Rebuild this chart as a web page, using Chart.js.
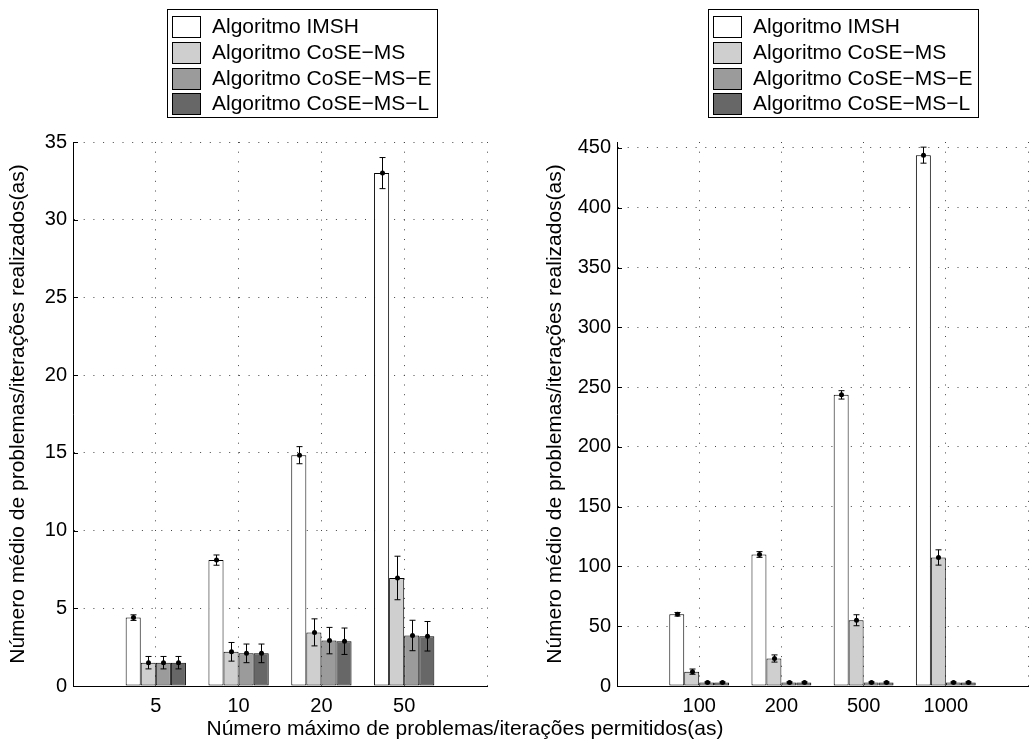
<!DOCTYPE html>
<html>
<head>
<meta charset="utf-8">
<script src="https://cdn.jsdelivr.net/npm/chart.js@4.4.0/dist/chart.umd.min.js"></script>
<style>
html,body{margin:0;padding:0;background:#fff;}
body{width:1036px;height:747px;position:relative;overflow:hidden;font-family:"Liberation Sans",Arial,sans-serif;}
.wrap{position:absolute;top:0;width:518px;height:747px;}
#w1{left:0;}
#w2{left:518px;}
#xt{position:absolute;left:0;width:930px;top:716px;line-height:24px;text-align:center;font-size:21px;color:#000;white-space:nowrap;}
</style>
</head>
<body>
<div class="wrap" id="w1"><canvas id="c1" width="518" height="747"></canvas></div>
<div class="wrap" id="w2"><canvas id="c2" width="518" height="747"></canvas></div>
<div id="xt">Número máximo de problemas/iterações permitidos(as)</div>
<script>
// ---------- data ----------
const seriesNames = ['Algoritmo IMSH', 'Algoritmo CoSE\u2212MS', 'Algoritmo CoSE\u2212MS\u2212E', 'Algoritmo CoSE\u2212MS\u2212L'];
const seriesColors = ['#ffffff', '#cfcfcf', '#9b9b9b', '#676767'];
const yTitle = 'Número médio de problemas/iterações realizados(as)';

// left panel
const categoriesLeft = ['5', '10', '20', '50'];
const imshLeft      = [4.4, 8.1, 14.85, 33.0];
const imshLeftErr   = [0.18, 0.33, 0.55, 1.0];
const coseLeft      = [1.5, 2.2, 3.45, 6.95];
const coseLeftErr   = [0.4, 0.6, 0.87, 1.4];
const coseELeft     = [1.5, 2.1, 2.92, 3.25];
const coseELeftErr  = [0.4, 0.6, 0.85, 0.98];
const coseLLeft     = [1.5, 2.1, 2.88, 3.2];
const coseLLeftErr  = [0.4, 0.6, 0.85, 0.95];
const yTicksLeft    = [0, 5, 10, 15, 20, 25, 30, 35];

// right panel
const categoriesRight = ['100', '200', '500', '1000'];
const imshRight      = [60, 110, 243.5, 444];
const imshRightErr   = [1.5, 2.4, 3.5, 6.7];
const coseRight      = [12, 23, 55, 107.5];
const coseRightErr   = [2.2, 3, 4.6, 6.4];
const coseERight     = [3, 3, 3, 3];
const coseERightErr  = [0.5, 0.5, 0.5, 0.5];
const coseLRight     = [3, 3, 3, 3];
const coseLRightErr  = [0.5, 0.5, 0.5, 0.5];
const yTicksRight    = [0, 50, 100, 150, 200, 250, 300, 350, 400, 450];

// ---------- plugins ----------
const errorBarPlugin = {
  id: 'errbars',
  afterDatasetsDraw(chart) {
    const ctx = chart.ctx, ys = chart.scales.y;
    chart.data.datasets.forEach((ds, i) => {
      const meta = chart.getDatasetMeta(i);
      meta.data.forEach((bar, j) => {
        const v = ds.data[j].y, e = ds.errors[j];
        const x = Math.round(bar.x) + 0.5;
        const yt = ys.getPixelForValue(v + e), yb = ys.getPixelForValue(v - e), yc = ys.getPixelForValue(v);
        ctx.save();
        ctx.strokeStyle = '#000';
        ctx.lineWidth = 1;
        ctx.beginPath();
        ctx.moveTo(x, yt); ctx.lineTo(x, yb);
        ctx.moveTo(x - 3, yt); ctx.lineTo(x + 3, yt);
        ctx.moveTo(x - 3, yb); ctx.lineTo(x + 3, yb);
        ctx.stroke();
        ctx.beginPath();
        ctx.arc(x, yc, 2.5, 0, Math.PI * 2);
        ctx.fillStyle = '#000';
        ctx.fill();
        ctx.restore();
      });
    });
  }
};

// inward major tick marks on the y axis (MATLAB style)
const inwardTickPlugin = {
  id: 'inwardTicks',
  afterDatasetsDraw(chart) {
    const ctx = chart.ctx, ys = chart.scales.y, a = chart.chartArea;
    ctx.save();
    ctx.strokeStyle = '#000';
    ctx.lineWidth = 1;
    ctx.beginPath();
    ys.ticks.forEach(t => {
      const y = Math.round(ys.getPixelForValue(t.value)) + 0.5;
      ctx.moveTo(a.left, y); ctx.lineTo(a.left + 5, y);
    });
    ctx.stroke();
    ctx.restore();
  }
};

const boxLegendPlugin = {
  id: 'boxLegend',
  afterDraw(chart) {
    const ctx = chart.ctx;
    const R = Math.round(chart.chartArea.right - 50);
    const top = 9, rowH = 25.8, boxW = 270, boxH = 108;
    const L = R - boxW;
    ctx.save();
    ctx.fillStyle = '#fff';
    ctx.fillRect(L, top, boxW, boxH);
    ctx.strokeStyle = '#000';
    ctx.lineWidth = 1;
    ctx.strokeRect(L + 0.5, top + 0.5, boxW, boxH);
    chart.data.datasets.forEach((ds, i) => {
      const cy = Math.round(top + 17 + i * rowH);
      ctx.fillStyle = ds.backgroundColor;
      ctx.fillRect(L + 5, cy - 10, 28, 21);
      ctx.strokeStyle = '#000';
      ctx.strokeRect(L + 5.5, cy - 10 + 0.5, 28, 21);
      ctx.fillStyle = '#000';
      ctx.font = '21px "Liberation Sans", Arial, sans-serif';
      ctx.textBaseline = 'middle';
      ctx.textAlign = 'left';
      ctx.fillText(ds.label, L + 45, cy + 1);
    });
    ctx.restore();
  }
};

function makeChart(id, categories, values, errors, yMax, yTicks, yWidth, titlePad, padRight) {
  const datasets = values.map((vals, k) => ({
    label: seriesNames[k],
    data: vals.map((v, i) => ({ x: i + 1, y: v })),
    errors: errors[k],
    backgroundColor: seriesColors[k],
    borderColor: '#000',
    borderWidth: 1,
    borderSkipped: false,
    categoryPercentage: 0.728,
    barPercentage: 1.0
  }));
  return new Chart(document.getElementById(id), {
    type: 'bar',
    data: { datasets },
    options: {
      responsive: false,
      animation: false,
      devicePixelRatio: 1,
      layout: { padding: { top: 142, left: 0, right: padRight, bottom: 0 } },
      plugins: { legend: { display: false }, tooltip: { enabled: false } },
      scales: {
        x: {
          type: 'linear',
          min: 0, max: 5,
          offset: false,
          grid: { offset: false, color: '#444', lineWidth: 1, drawTicks: false },
          border: { display: true, color: '#000', width: 1, dash: [1, 8.7] },
          ticks: {
            stepSize: 1,
            padding: 8,
            color: '#000',
            font: { size: 20 },
            maxRotation: 0,
            autoSkip: false,
            callback: (v) => (v >= 1 && v <= 4) ? categories[v - 1] : ''
          },
          afterBuildTicks: (s) => { s.ticks = [0, 1, 2, 3, 4, 5].map(v => ({ value: v })); },
          afterFit: (s) => { s.height = 61; }
        },
        y: {
          type: 'linear',
          min: 0, max: yMax,
          grid: { color: '#444', lineWidth: 1, drawTicks: false },
          border: { display: true, color: '#000', width: 1, dash: [1, 8.7] },
          ticks: { padding: 6, color: '#000', font: { size: 20 } },
          afterBuildTicks: (s) => { s.ticks = yTicks.map(v => ({ value: v })); },
          afterFit: (s) => { s.width = yWidth; },
          title: {
            display: true,
            text: yTitle,
            color: '#000',
            font: { size: 21 },
            padding: { top: titlePad, bottom: 0 }
          }
        }
      }
    },
    plugins: [errorBarPlugin, inwardTickPlugin, boxLegendPlugin]
  });
}

Chart.defaults.font.family = '"Liberation Sans", Arial, sans-serif';

makeChart('c1', categoriesLeft,
  [imshLeft, coseLeft, coseELeft, coseLLeft],
  [imshLeftErr, coseLeftErr, coseELeftErr, coseLLeftErr],
  35, yTicksLeft, 73, 5.4, 31);

makeChart('c2', categoriesRight,
  [imshRight, coseRight, coseERight, coseLRight],
  [imshRightErr, coseRightErr, coseERightErr, coseLRightErr],
  455, yTicksRight, 99, 24.4, 5);
</script>
</body>
</html>
